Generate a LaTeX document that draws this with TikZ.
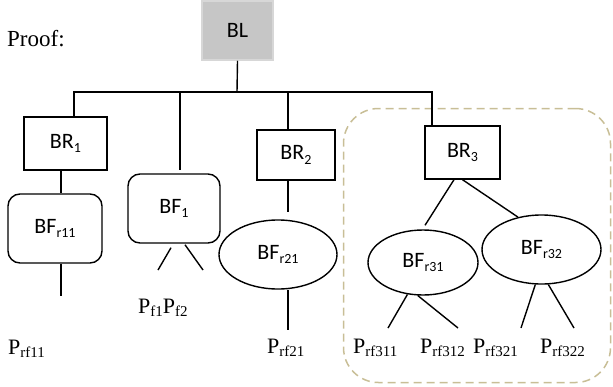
\documentclass[tikz,border=0pt]{standalone}
\usepackage{fontspec}
\setmainfont{Liberation Serif}
\newfontfamily\carl{Carlito}
\usetikzlibrary{shapes.geometric}
\definecolor{blfill}{RGB}{198,198,198}
\definecolor{blline}{RGB}{215,215,215}
\definecolor{grpcol}{RGB}{200,190,150}
\newcommand\csub[1]{\raisebox{-4.5pt}{\fontsize{14}{14}\selectfont #1}}
\newcommand\tsub[1]{\raisebox{-3pt}{\fontsize{15}{15}\selectfont #1}}
\tikzset{
  base/.style={inner sep=0pt, font=\carl\fontsize{22}{22}\selectfont},
  blbox/.style={base, rectangle, fill=blfill, draw=blline, line width=1.5pt},
  rbox/.style={base, rectangle, draw=black, line width=1.4pt},
  rrbox/.style={base, rectangle, rounded corners=12pt, draw=black, line width=1.4pt},
  ebox/.style={base, ellipse, draw=black, line width=1.4pt},
  conn/.style={draw=black, line width=1.4pt},
  plabel/.style={inner sep=0pt, anchor=base west, font=\fontsize{22}{22}\selectfont},
  grp/.style={rectangle, rounded corners=35pt, draw=grpcol, line width=1.5pt, dash pattern=on 8pt off 5pt}
}
\begin{document}
\begin{tikzpicture}[x=1pt,y=-1pt]
\useasboundingbox (0,0) rectangle (613,386);
% group frame
\node[grp, minimum width=267pt, minimum height=274pt] (grp) at (477,245.5) {};
% text
\node[plabel, font=\fontsize{23}{23}\selectfont] (proof) at (7,46) {Proof:};
% boxes
\node[blbox, minimum width=71pt, minimum height=59pt] (bl) at (237.5,30.5) {BL};
\node[rbox, minimum width=83pt, minimum height=53pt] (br1) at (65.5,143.5) {BR\csub{1}};
\node[rrbox, minimum width=94pt, minimum height=69pt] (bfr11) at (55,228.5) {BF\csub{r11}};
\node[rrbox, minimum width=92pt, minimum height=69pt] (bf1) at (174,208.5) {BF\csub{1}};
\node[rbox, minimum width=78pt, minimum height=50pt] (br2) at (296,155) {BR\csub{2}};
\node[ebox, minimum width=118pt, minimum height=69pt] (bfr21) at (278,254.5) {BF\csub{r21}};
\node[rbox, minimum width=75pt, minimum height=53pt] (br3) at (462.5,152.5) {BR\csub{3}};
\node[ebox, minimum width=110pt, minimum height=65pt] (bfr31) at (423,262.5) {BF\csub{r31}};
\node[ebox, minimum width=119pt, minimum height=69pt] (bfr32) at (541.5,249.5) {BF\csub{r32}};
% labels
\node[plabel] (p11) at (8,354) {P\tsub{rf11}};
\node[plabel] (pf) at (138,313) {P\tsub{f1}P\tsub{f2}};
\node[plabel] (p21) at (267,353) {P\tsub{rf21}};
\node[plabel] (p311) at (353,353) {P\tsub{rf311}};
\node[plabel] (p312) at (420,353) {P\tsub{rf312}};
\node[plabel] (p321) at (473,353) {P\tsub{rf321}};
\node[plabel] (p322) at (540,353) {P\tsub{rf322}};
% coordinates
\coordinate (j) at (237,92);
\coordinate (x1) at (74,0);
\coordinate (x3) at (432,0);
\coordinate (bf1top) at (180,170);
\coordinate (b2) at (288,0);
\coordinate (a1) at (61,0);
\coordinate (e11) at (61,296);
\coordinate (f1l) at (158,270);
\coordinate (f1r) at (203,270);
\coordinate (e21a) at (288,212);
\coordinate (e21b) at (288,330);
\coordinate (l311) at (388,328);
\coordinate (l312) at (458,328);
\coordinate (l321) at (521,328);
\coordinate (l322) at (574,328);
% connectors
\draw[conn] (bl.south) -- (j);
\draw[conn] (br1.north -| x1) |- (j) -| (br3.north -| x3);
\draw[conn] (bf1top |- j) -- (bf1top);
\draw[conn] (b2 |- j) -- (br2.north -| b2);
\draw[conn] (br1.south -| a1) -- (bfr11.north -| a1);
\draw[conn] (bfr11.south -| e11) -- (e11);
\draw[conn] ([shift={(-3,4)}]bf1.south) -- (f1l);
\draw[conn] ([shift={(11,1)}]bf1.south) -- (f1r);
\draw[conn] (br2.south -| e21a) -- (e21a);
\draw[conn] (bfr21.south -| e21b) -- (e21b);
\draw[conn] ([shift={(-8.5,0)}]br3.south) -- ([shift={(2,-4)}]bfr31.north);
\draw[conn] (br3.south) -- (bfr32.126);
\draw[conn] (bfr31.244) -- (l311);
\draw[conn] (bfr31.261) -- (l312);
\draw[conn] (bfr32.260) -- (l321);
\draw[conn] (bfr32.281) -- (l322);
\end{tikzpicture}
\end{document}
